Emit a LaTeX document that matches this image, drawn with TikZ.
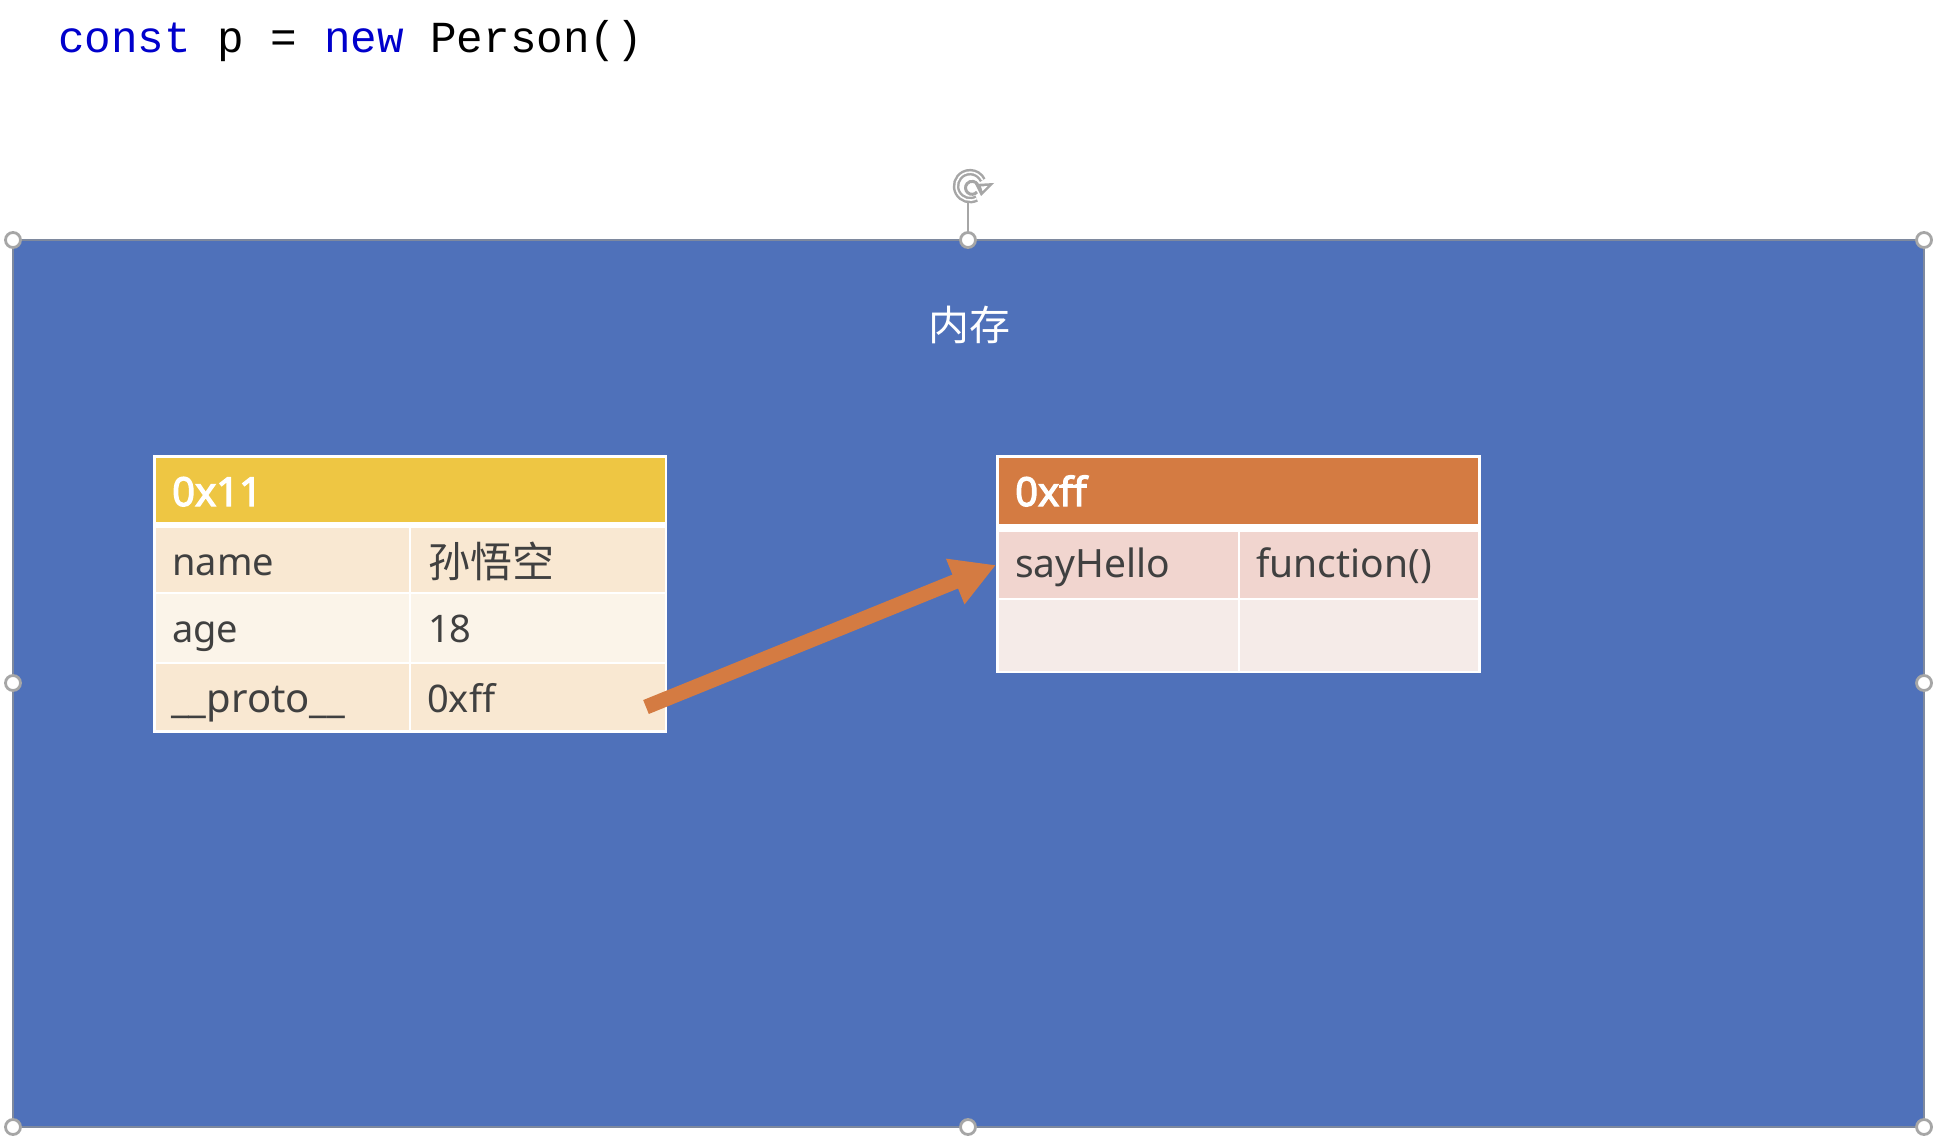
\documentclass[tikz,border=0pt]{standalone}
\usepackage{fontspec}
\setmainfont{Noto Sans}
\setmonofont{Liberation Mono}
\newfontfamily\cjkfont{Noto Sans CJK SC}
\newfontfamily\headfont[FakeBold=3]{Noto Sans}
\usetikzlibrary{arrows.meta}
\definecolor{memblue}{HTML}{4F71BA}
\definecolor{edgegray}{HTML}{7E899E}
\definecolor{handlegray}{HTML}{A6A6A6}
\definecolor{yellowhead}{HTML}{EEC643}
\definecolor{orangehead}{HTML}{D47B42}
\definecolor{creamdark}{HTML}{F9E8D2}
\definecolor{creamlight}{HTML}{FBF4E9}
\definecolor{pinkdark}{HTML}{F1D5CF}
\definecolor{pinklight}{HTML}{F5EBE8}
\definecolor{kwblue}{HTML}{0000CC}
\definecolor{celltext}{HTML}{404040}
\tikzset{
  x=1pt,y=-1pt,
  cell/.style={rectangle,inner sep=0pt,outer sep=0pt,anchor=north west},
  handle/.style={circle,draw=handlegray,line width=2.8pt,fill=white,minimum size=15pt,inner sep=0pt},
  label/.style={anchor=base west,inner sep=0pt,text=celltext,font=\fontsize{38}{38}\selectfont},
  widelabel/.style={label,font=\fontsize{39}{39}\selectfont},
  headlabel/.style={anchor=base west,inner sep=0pt,text=white,font=\fontsize{40}{40}\selectfont\headfont},
}
\begin{document}
\begin{tikzpicture}
\path[use as bounding box,fill=white] (0,0) rectangle (1942,1142);
% code line
\node[anchor=base west,inner sep=0pt,font=\fontsize{44.3}{44.3}\selectfont\ttfamily] (code) at (58,53)
  {\textcolor{kwblue}{const} p = \textcolor{kwblue}{new} Person()};
% memory block
\node[cell,fill=memblue,draw=edgegray,line width=2pt,minimum width=1911pt,minimum height=887pt] (mem) at (13,240) {};
\node[inner sep=0pt,text=white,font=\fontsize{41}{41}\selectfont\cjkfont] (memtitle) at (969,325) {内存};
% left table
\node[cell,fill=white,minimum width=514pt,minimum height=278pt] (ta) at (153,455) {};
\node[cell,fill=yellowhead,minimum width=509pt,minimum height=64pt] (tahead) at (156,458) {};
\node[cell,fill=creamdark,minimum width=253pt,minimum height=64pt] (a1l) at (156,528) {};
\node[cell,fill=creamdark,minimum width=254pt,minimum height=64pt] (a1r) at (411,528) {};
\node[cell,fill=creamlight,minimum width=253pt,minimum height=68pt] (a2l) at (156,594) {};
\node[cell,fill=creamlight,minimum width=254pt,minimum height=68pt] (a2r) at (411,594) {};
\node[cell,fill=creamdark,minimum width=253pt,minimum height=66pt] (a3l) at (156,664) {};
\node[cell,fill=creamdark,minimum width=254pt,minimum height=66pt] (a3r) at (411,664) {};
\node[headlabel] (ta0) at (172,506) {0x11};
\node[label] (an) at (172,575) {name};
\node[label,font=\fontsize{42}{42}\selectfont\cjkfont] (av) at (428,577) {孙悟空};
\node[label] (ag) at (172,642) {age};
\node[label] (ai) at (428,642) {18};
\node[label,font=\fontsize{40}{40}\selectfont] (ap) at (171,712) {\_\_proto\_\_};
\node[label] (af) at (427,712) {0xff};
% right table
\node[cell,fill=white,minimum width=485pt,minimum height=218pt] (tb) at (996,455) {};
\node[cell,fill=orangehead,minimum width=479pt,minimum height=66pt] (tbhead) at (999,458) {};
\node[cell,fill=pinkdark,minimum width=239pt,minimum height=66pt] (b1l) at (999,532) {};
\node[cell,fill=pinkdark,minimum width=238pt,minimum height=66pt] (b1r) at (1240,532) {};
\node[cell,fill=pinklight,minimum width=239pt,minimum height=71pt] (b2l) at (999,600) {};
\node[cell,fill=pinklight,minimum width=238pt,minimum height=71pt] (b2r) at (1240,600) {};
\node[headlabel] (tb0) at (1015,506) {0xff};
\node[widelabel] (bn) at (1015,577) {sayHello};
\node[widelabel] (bv) at (1256,577) {function()};
% arrow
\coordinate (arrowstart) at (646,707);
\draw[orangehead,line width=15pt,-{Triangle[length=44pt,width=46pt]}] (arrowstart) -- (tb.west |- b1l.west);
% selection handles
\coordinate (rothub) at (968,202);
\node[handle] (h1) at (13,240) {};
\node[handle] (h3) at (1924,240) {};
\node[handle] (h4) at (13,683) {};
\node[handle] (h5) at (1924,683) {};
\node[handle] (h6) at (13,1127) {};
\node[handle] (h7) at (968,1127) {};
\node[handle] (h8) at (1924,1127) {};
\draw[handlegray,line width=1.8pt] (rothub) -- (968,240);
\node[handle] (h2) at (968,240) {};
% rotation icon
\draw[handlegray,line width=6.5pt] (976.6,198.5) arc[start angle=62,end angle=335,radius=14];
\draw[white,line width=1.6pt] (976.6,198.5) arc[start angle=62,end angle=335,radius=14];
\draw[handlegray,line width=3pt] (977,192) arc[start angle=40,end angle=330,radius=6.5];
\fill[handlegray] (975,184) -- (994,183) -- (981,196) -- cycle;
\fill[white] (981,186.5) -- (987.5,186) -- (982.5,191) -- cycle;
\end{tikzpicture}
\end{document}
